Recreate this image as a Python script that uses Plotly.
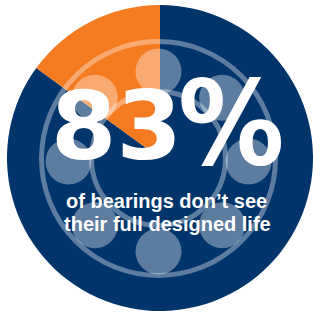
import plotly.graph_objects as go
import math

# Data
labels = ["Do not reach designed life", "Reach designed life"]
values = [85, 15]  # visual split of the pie (navy / orange)
colors = ["#01346a", "#f47b20"]
headline = "83"
headline_pct = "%"
subtitle_lines = ["of bearings don’t see", "their full designed life"]

W = H = 313

fig = go.Figure()

# invisible trace so the pixel-unit cartesian axes exist for the decoration
fig.add_trace(go.Scatter(x=[], y=[], showlegend=False, hoverinfo="skip"))

fig.add_trace(go.Pie(
    labels=labels, values=values,
    marker=dict(colors=colors, line=dict(width=0)),
    sort=False, direction="clockwise", rotation=0,
    textinfo="none", hoverinfo="label+percent", showlegend=False,
    domain=dict(x=[7 / W, 313 / W], y=[1 - 311 / H, 1 - 5 / H]),
))

light = "rgba(255,255,255,0.36)"
shapes = []
# outer and inner bearing rings
cx, cy = 158.5, 158.5
for r in (117, 67):
    shapes.append(dict(type="circle", xref="x", yref="y",
                       x0=cx - r, x1=cx + r, y0=cy - r, y1=cy + r,
                       line=dict(color=light, width=5), fillcolor="rgba(0,0,0,0)",
                       layer="above"))
# balls
bcx, bcy, br, rb = 158.5, 161.5, 90, 23
for k in range(8):
    a = math.radians(90 + 45 * k)
    x = bcx + br * math.cos(a)
    y = bcy - br * math.sin(a)
    shapes.append(dict(type="circle", xref="x", yref="y",
                       x0=x - rb, x1=x + rb, y0=y - rb, y1=y + rb,
                       line=dict(width=0), fillcolor=light, layer="above"))

annotations = [
    dict(x=116, y=126, xref="x", yref="y", text=f"<b>{headline}</b>", showarrow=False,
         font=dict(family="DejaVu Sans", size=94, color="white"),
         xanchor="center", yanchor="middle"),
    dict(x=231, y=123, xref="x", yref="y", text=f"<b>{headline_pct}</b>", showarrow=False,
         font=dict(family="DejaVu Sans Condensed, sans-serif", size=118, color="white"),
         xanchor="center", yanchor="middle"),
    dict(x=166, y=201, xref="x", yref="y", text=f"<b>{subtitle_lines[0]}</b>", showarrow=False,
         font=dict(family="Liberation Sans, Arial, sans-serif", size=20, color="white"),
         xanchor="center", yanchor="middle"),
    dict(x=167, y=224, xref="x", yref="y", text=f"<b>{subtitle_lines[1]}</b>", showarrow=False,
         font=dict(family="Liberation Sans, Arial, sans-serif", size=20, color="white"),
         xanchor="center", yanchor="middle"),
]

fig.update_layout(
    width=W, height=H, margin=dict(l=0, r=0, t=0, b=0),
    paper_bgcolor="white", plot_bgcolor="rgba(0,0,0,0)",
    xaxis=dict(range=[0, W], visible=False, fixedrange=True),
    yaxis=dict(range=[H, 0], visible=False, fixedrange=True),
    shapes=shapes, annotations=annotations, showlegend=False,
)

fig.write_html("out.html", config={"displayModeBar": False},
               post_script="document.body.style.margin='0';document.body.style.overflow='hidden';")
